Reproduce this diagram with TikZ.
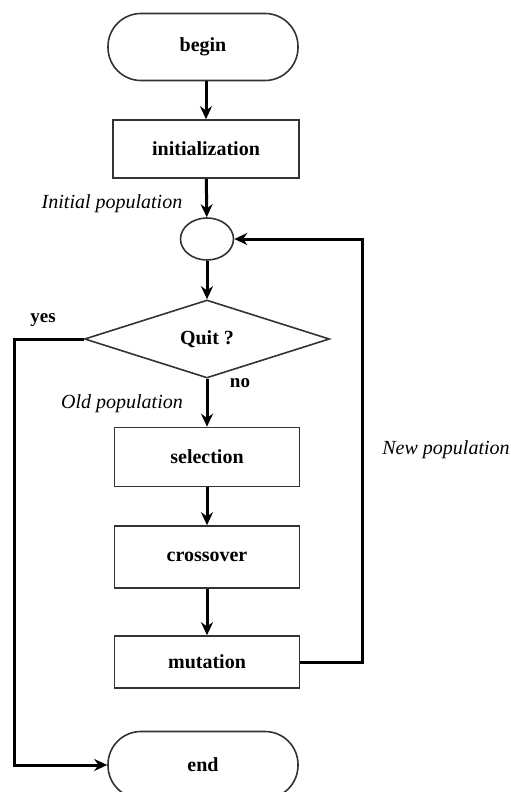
\documentclass[tikz,border=0pt]{standalone}
\usepackage{fontspec}
\setmainfont{Liberation Serif}
\usetikzlibrary{arrows.meta,positioning,shapes.geometric}

\begin{document}
\begin{tikzpicture}[x=1pt,y=-1pt,>={Stealth[length=13pt,width=12pt]},
  box/.style={draw=black!80,line width=1.6pt,minimum width=186pt,minimum height=58pt,
              inner sep=0pt,font=\fontsize{20}{22}\selectfont\bfseries},
  term/.style={box,rounded corners=33pt,minimum width=190pt,minimum height=67pt},
  lbl/.style={font=\fontsize{20}{22}\selectfont\itshape},
  ans/.style={font=\fontsize{19}{21}\selectfont\bfseries},
  flow/.style={->,line width=3pt},
  link/.style={line width=3pt}]
\useasboundingbox (0,0) rectangle (511,792);

\node[term] (begin) at (203,47) {begin};
\node[box] (init) at (206,149) {initialization};
\node[ellipse,draw=black!80,line width=1.6pt,minimum width=53pt,minimum height=42pt,inner sep=0pt] (pool) at (207,239) {};
\node[diamond,box,minimum width=245pt,minimum height=78pt] (quit) at (207,339) {Quit ?};
\foreach \name/\y/\h in {selection/457/59, crossover/557/62, mutation/662/52}
  \node[box,minimum width=185pt,minimum height=\h pt] (\name) at (207,\y) {\name};
\node[term] (end) at (203,765) {end};

\node[lbl] (initpop) at (112,204) {Initial population};
\node[lbl] (oldpop) at (122,404) {Old population};
\node[lbl] (newpop) at (446,450) {New population};
\node[ans] (yes) at (43,320) {yes};
\node[ans] (no) at (240,383) {no};

\coordinate (loopr) at (362,0);
\coordinate (yesl) at (14,0);

\draw[flow] (begin.south -| init) -- (init);
\draw[flow] (init) -- (pool);
\draw[flow] (pool) -- (quit);
\draw[flow] (quit) -- (selection);
\draw[flow] (selection) -- (crossover);
\draw[flow] (crossover) -- (mutation);
\draw[flow] (mutation.east) -- (mutation.east -| loopr) -- (pool.east -| loopr) -- (pool.east);
\draw[flow] (quit.west) -- (quit.west -| yesl) -- (end.west -| yesl) -- (end.west);
\end{tikzpicture}
\end{document}
